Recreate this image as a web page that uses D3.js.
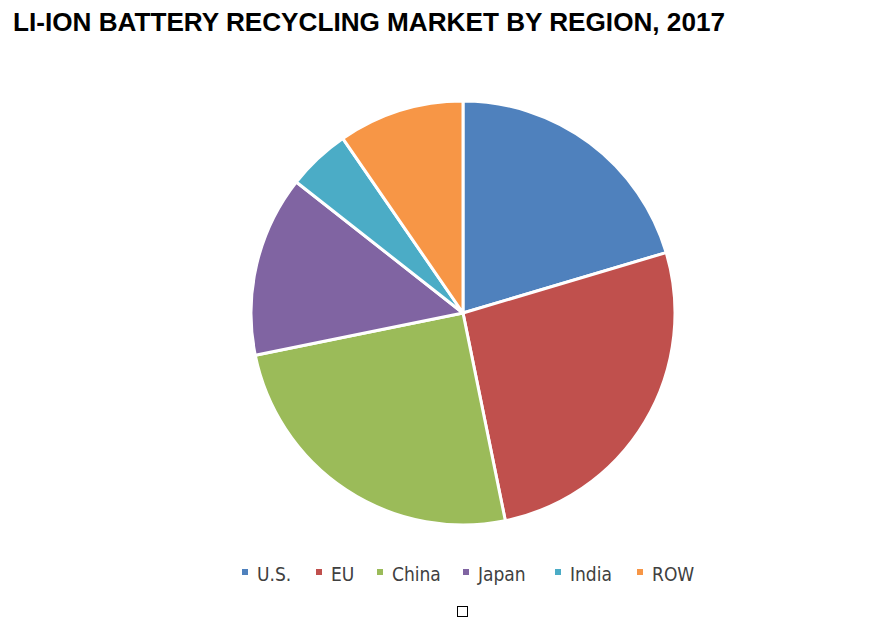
<!DOCTYPE html>
<html>
<head>
<meta charset="utf-8">
<script src="https://cdn.jsdelivr.net/npm/d3@7"></script>
<style>
  body { margin: 0; background: #fff; }
  .title { font-family: "Liberation Sans", Arial, sans-serif; font-weight: bold; font-size: 25px; fill: #000; }
  .legend text { font-family: "DejaVu Sans Condensed", "DejaVu Sans", Verdana, sans-serif; font-stretch: condensed; font-size: 19px; fill: #404040; }
</style>
</head>
<body>
<svg id="chart" width="894" height="630"></svg>
<script>
// region shares (percent)
var regions = ["U.S.", "EU", "China", "Japan", "India", "ROW"];
var shares = [20.4, 26.4, 25.0, 13.8, 4.8, 9.6];
var colors = ["#4F81BD", "#C0504D", "#9BBB59", "#8064A2", "#4BACC6", "#F79646"];

var svg = d3.select("#chart");
var cx = 463, cy = 313, radius = 212;

svg.append("text")
    .attr("class", "title")
    .attr("x", 13)
    .attr("y", 31)
    .attr("textLength", 712)
    .attr("lengthAdjust", "spacingAndGlyphs")
    .text("LI-ION BATTERY RECYCLING MARKET BY REGION, 2017");

var color = d3.scaleOrdinal().domain(regions).range(colors);
var data = regions.map(function (r, i) { return { region: r, value: shares[i] }; });

var pie = d3.pie().sort(null).value(function (d) { return d.value; });
var arc = d3.arc().innerRadius(0).outerRadius(radius);

var g = svg.append("g").attr("transform", "translate(" + cx + "," + cy + ")");
g.selectAll(".slice")
    .data(pie(data))
    .enter().append("path")
    .attr("class", "slice")
    .attr("d", arc)
    .attr("fill", function (d) { return color(d.data.region); })
    .attr("stroke", "#fff")
    .attr("stroke-width", 3)
    .attr("stroke-linejoin", "round");

// legend
var legendX = [242, 316, 377, 463, 555, 637];
var legend = svg.append("g").attr("class", "legend");
var item = legend.selectAll("g")
    .data(regions)
    .enter().append("g")
    .attr("transform", function (d, i) { return "translate(" + legendX[i] + ",0)"; });
item.append("rect")
    .attr("x", 0).attr("y", 569)
    .attr("width", 6).attr("height", 6)
    .attr("fill", function (d) { return color(d); });
item.append("text")
    .attr("x", 15)
    .attr("y", 581)
    .text(function (d) { return d; });

// small empty square under legend
svg.append("rect")
    .attr("x", 457.5).attr("y", 606.5)
    .attr("width", 10).attr("height", 10)
    .attr("fill", "#fff")
    .attr("stroke", "#000")
    .attr("stroke-width", 1);
</script>
</body>
</html>
